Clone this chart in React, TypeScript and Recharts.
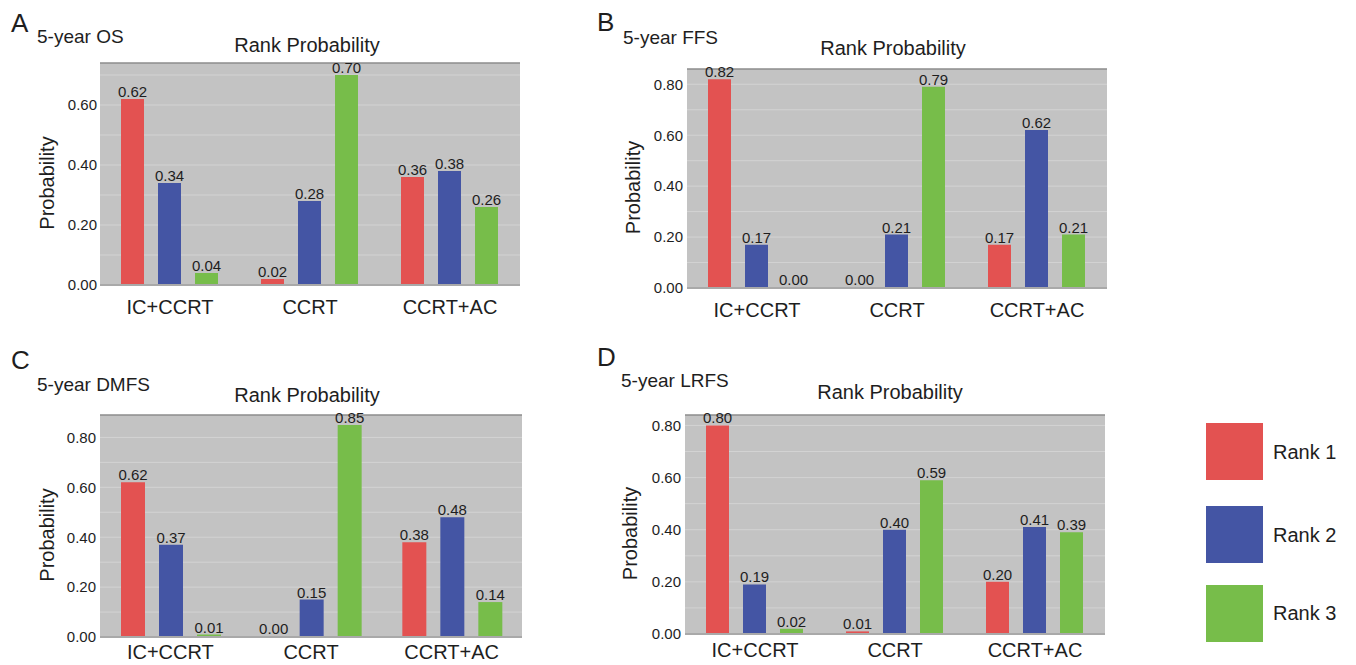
import {
  Bar,
  BarChart,
  CartesianGrid,
  LabelList,
  ReferenceLine,
  XAxis,
  YAxis,
} from "recharts";

const treatments = ["IC+CCRT", "CCRT", "CCRT+AC"];
const rankNames = ["Rank 1", "Rank 2", "Rank 3"];
const rankColors = ["#e35251", "#4455a4", "#77bd4a"];

// 5-year OS
const osRank1 = [0.62, 0.02, 0.36];
const osRank2 = [0.34, 0.28, 0.38];
const osRank3 = [0.04, 0.7, 0.26];
// 5-year FFS
const ffsRank1 = [0.82, 0.004, 0.17];
const ffsRank2 = [0.17, 0.21, 0.62];
const ffsRank3 = [0.004, 0.79, 0.21];
// 5-year DMFS
const dmfsRank1 = [0.62, 0.004, 0.38];
const dmfsRank2 = [0.37, 0.15, 0.48];
const dmfsRank3 = [0.01, 0.85, 0.14];
// 5-year LRFS
const lrfsRank1 = [0.8, 0.01, 0.2];
const lrfsRank2 = [0.19, 0.4, 0.41];
const lrfsRank3 = [0.02, 0.59, 0.39];

const ticksA = [0, 0.2, 0.4, 0.6];
const ticks = [0, 0.2, 0.4, 0.6, 0.8];
const gridFine = [0.05, 0.1, 0.15, 0.2, 0.25, 0.3, 0.35, 0.4, 0.45, 0.5, 0.55, 0.6, 0.65, 0.7];
const gridCoarse = [0.1, 0.2, 0.3, 0.4, 0.5, 0.6, 0.7, 0.8];

const FONT = '"Liberation Sans", Arial, sans-serif';
const TEXT = "#1e1e1e";

function buildRows(r1: number[], r2: number[], r3: number[]) {
  return treatments.map((name, i) => ({ name, r1: r1[i], r2: r2[i], r3: r3[i] }));
}

const fmt = (v: any) => Number(v).toFixed(2);

function YLabel(props: any) {
  const { viewBox, dx } = props;
  const cx = viewBox.x + dx;
  const cy = viewBox.y + viewBox.height / 2 + 9;
  return (
    <text
      x={cx}
      y={cy}
      transform={`rotate(-90, ${cx}, ${cy})`}
      textAnchor="middle"
      dominantBaseline="central"
      fontSize={20}
      fill={TEXT}
    >
      Probability
    </text>
  );
}

type PanelProps = {
  x0: number;
  y0: number;
  plot: [number, number, number, number];
  rows: any[];
  max: number;
  yTicks: number[];
  grid: number[];
  labelDx: number;
  tickGap: number;
  catGap: number;
};

function Panel({ x0, y0, plot, rows, max, yTicks, grid, labelDx, tickGap, catGap }: PanelProps) {
  const [pl, pt, pr, pb] = plot;
  const width = pr - x0 + 10;
  const height = pb - y0 + 35;
  return (
    <div style={{ position: "absolute", left: x0, top: y0 }}>
      <BarChart
        width={width}
        height={height}
        data={rows}
        margin={{ top: pt - y0, right: 10, bottom: 0, left: pl - x0 - 60 }}
        barCategoryGap={21}
        barGap={14}
      >
        <CartesianGrid
          vertical={false}
          horizontalValues={grid}
          stroke="#d3d3d3"
          fill="#c3c3c3"
          fillOpacity={1}
        />
        <XAxis
          dataKey="name"
          height={35}
          tickLine={false}
          tickSize={0}
          tickMargin={catGap}
          axisLine={{ stroke: "#a9a9a9", strokeWidth: 2 }}
          tick={{ fontSize: 20, fill: TEXT }}
        />
        <YAxis
          width={60}
          domain={[0, max]}
          ticks={yTicks}
          tickFormatter={fmt}
          axisLine={false}
          tickLine={false}
          tickSize={0}
          tickMargin={tickGap}
          tick={{ fontSize: 15, fill: TEXT }}
          label={<YLabel dx={labelDx} />}
        />
        <ReferenceLine y={max} stroke="#8c8c8c" strokeWidth={1.5} />
        {["r1", "r2", "r3"].map((key, i) => (
          <Bar key={key} dataKey={key} fill={rankColors[i]} isAnimationActive={false}>
            <LabelList
              dataKey={key}
              position="top"
              offset={2}
              formatter={fmt}
              style={{ fontSize: 15, fill: TEXT }}
            />
          </Bar>
        ))}
      </BarChart>
    </div>
  );
}

export default function App() {
  return (
    <div
      style={{
        position: "fixed",
        left: 0,
        top: 0,
        width: 1356,
        height: 665,
        overflow: "hidden",
        background: "#fff",
        fontFamily: FONT,
      }}
    >
      <Panel
        x0={0}
        y0={0}
        plot={[100, 63, 520, 285]}
        rows={buildRows(osRank1, osRank2, osRank3)}
        max={0.74}
        yTicks={ticksA}
        grid={gridFine}
        labelDx={7}
        tickGap={3}
        catGap={15}
      />
      <Panel
        x0={587}
        y0={0}
        plot={[687, 69, 1107, 288]}
        rows={buildRows(ffsRank1, ffsRank2, ffsRank3)}
        max={0.86}
        yTicks={ticks}
        grid={gridCoarse}
        labelDx={6}
        tickGap={4}
        catGap={15}
      />
      <Panel
        x0={0}
        y0={335}
        plot={[100, 415, 522, 637]}
        rows={buildRows(dmfsRank1, dmfsRank2, dmfsRank3)}
        max={0.89}
        yTicks={ticks}
        grid={gridCoarse}
        labelDx={7}
        tickGap={4}
        catGap={8}
      />
      <Panel
        x0={585}
        y0={335}
        plot={[685, 415, 1105, 634]}
        rows={buildRows(lrfsRank1, lrfsRank2, lrfsRank3)}
        max={0.84}
        yTicks={ticks}
        grid={gridCoarse}
        labelDx={5}
        tickGap={4}
        catGap={9}
      />
      <svg
        width={1356}
        height={665}
        style={{ position: "absolute", left: 0, top: 0, pointerEvents: "none" }}
        fontFamily={FONT}
        fill={TEXT}
      >
        <g dominantBaseline="central">
          <text x={11} y={23} fontSize={26}>A</text>
          <text x={37} y={36} fontSize={19}>5-year OS</text>
          <text x={307} y={45} fontSize={20} textAnchor="middle">Rank Probability</text>

          <text x={597} y={22} fontSize={26}>B</text>
          <text x={623} y={37} fontSize={19}>5-year FFS</text>
          <text x={893} y={48} fontSize={20} textAnchor="middle">Rank Probability</text>

          <text x={11} y={360} fontSize={26}>C</text>
          <text x={37} y={384} fontSize={19}>5-year DMFS</text>
          <text x={307} y={395} fontSize={20} textAnchor="middle">Rank Probability</text>

          <text x={597} y={357} fontSize={26}>D</text>
          <text x={621} y={380} fontSize={19}>5-year LRFS</text>
          <text x={890} y={392} fontSize={20} textAnchor="middle">Rank Probability</text>

          {rankNames.map((name, i) => (
            <g key={name}>
              <rect x={1206} y={[423, 506, 585][i]} width={57} height={57} fill={rankColors[i]} />
              <text x={1273} y={[452, 535, 613][i]} fontSize={20}>{name}</text>
            </g>
          ))}
        </g>
      </svg>
    </div>
  );
}
